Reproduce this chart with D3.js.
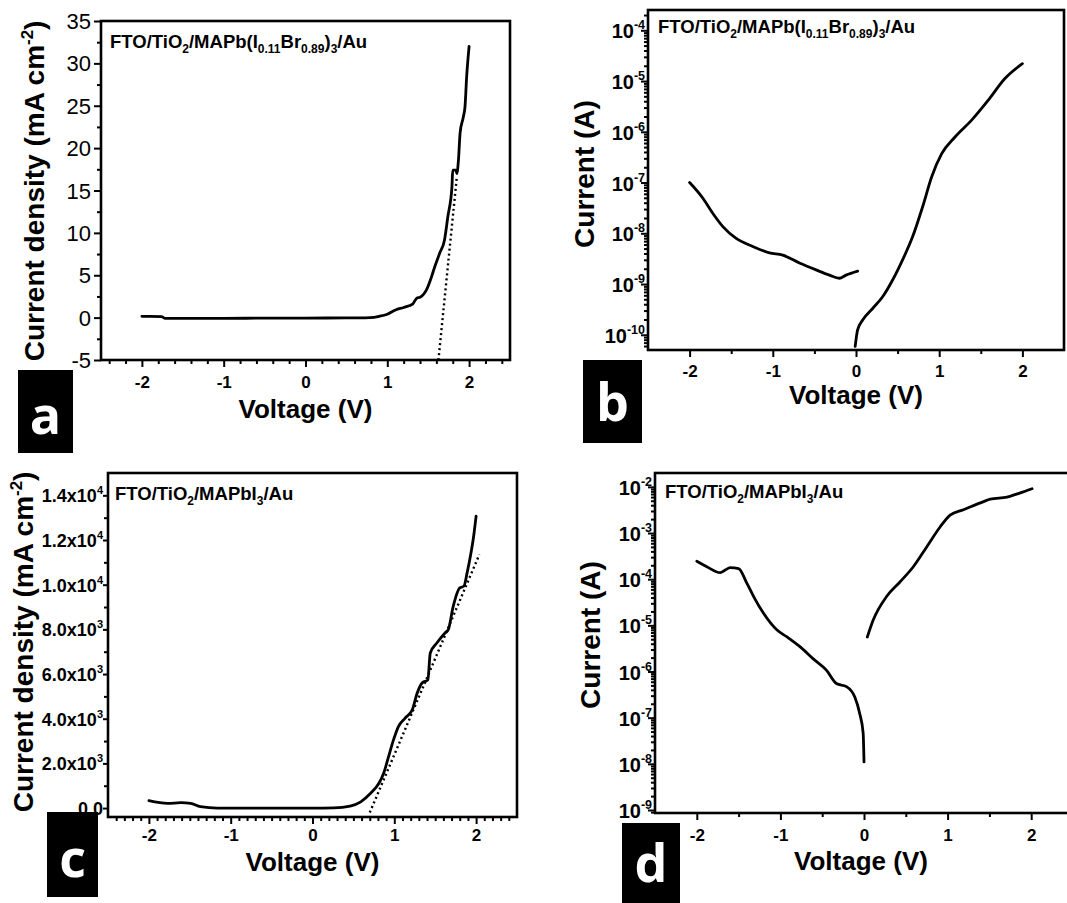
<!DOCTYPE html>
<html><head><meta charset="utf-8">
<script src="https://cdn.jsdelivr.net/npm/d3@7"></script>
<style>
body{margin:0;background:#fff}
svg{display:block}
text{font-family:"Liberation Sans",Arial,sans-serif;fill:#000}
</style>
</head><body>
<svg id="chart" width="1067" height="903"></svg>
<script>
// ---------------- DATA ----------------
const xTicks = [-2, -1, 0, 1, 2];

// Panel a: FTO/TiO2/MAPb(I0.11Br0.89)3/Au, J-V linear
const voltA = [-2.0, -1.9, -1.76, -1.72, -1.4, -1.0, -0.5, 0.0, 0.5, 0.79, 0.9, 1.0, 1.1, 1.2, 1.31, 1.36, 1.40, 1.48, 1.54, 1.58, 1.64, 1.70, 1.74, 1.79, 1.80, 1.84, 1.85, 1.87, 1.89, 1.93, 1.95, 1.97, 2.0];
const jA    = [0.15, 0.15, 0.12, -0.08, -0.08, -0.08, -0.06, -0.05, -0.04, 0.0, 0.15, 0.4, 0.9, 1.2, 1.6, 2.3, 2.4, 3.3, 4.8, 6.0, 7.6, 9.2, 11.9, 15.4, 17.4, 17.4, 17.0, 18.6, 21.8, 23.7, 24.9, 28.4, 32.0];
const fitVoltA = [1.625, 1.85];
const fitJA    = [-5.0, 16.6];
const yTicksA = [-5, 0, 5, 10, 15, 20, 25, 30, 35];

// Panel b: log I-V
const voltBrev = [-2.0, -1.84, -1.72, -1.60, -1.44, -1.24, -1.04, -0.88, -0.68, -0.48, -0.32, -0.20, -0.12, 0.02];
const curBrev  = [1.0e-7, 4.9e-8, 2.45e-8, 1.35e-8, 7.9e-9, 5.5e-9, 4.1e-9, 3.7e-9, 2.6e-9, 1.9e-9, 1.5e-9, 1.3e-9, 1.5e-9, 1.8e-9];
const voltBfwd = [-0.01, 0.02, 0.08, 0.20, 0.32, 0.44, 0.56, 0.68, 0.80, 0.91, 1.03, 1.19, 1.39, 1.59, 1.79, 2.0];
const curBfwd  = [5.9e-11, 1.26e-10, 1.95e-10, 3.3e-10, 5.6e-10, 1.2e-9, 3.0e-9, 8.5e-9, 3.3e-8, 1.3e-7, 3.7e-7, 7.9e-7, 1.7e-6, 4.2e-6, 1.12e-5, 2.2e-5];
const yTickExpB = [-10, -9, -8, -7, -6, -5, -4];

// Panel c: FTO/TiO2/MAPbI3/Au, J-V linear
const voltC = [-2.0, -1.77, -1.61, -1.49, -1.37, -1.16, -0.5, 0.0, 0.26, 0.46, 0.59, 0.71, 0.81, 0.87, 0.93, 0.99, 1.05, 1.13, 1.22, 1.28, 1.34, 1.41, 1.44, 1.52, 1.62, 1.66, 1.72, 1.80, 1.85, 1.89, 1.93, 1.97, 2.0];
const jC    = [330, 210, 240, 210, 60, 0, 0, 0, 10, 90, 280, 660, 1100, 1560, 2300, 3050, 3650, 4020, 4400, 5150, 5600, 5740, 6940, 7390, 7840, 7990, 9030, 9860, 9930, 10530, 11270, 12170, 13070];
const fitVoltC = [0.70, 2.04];
const fitJC    = [-200, 11350];
const yTicksC = [0, 2000, 4000, 6000, 8000, 10000, 12000, 14000];
const yTickMantC = ["0.0", "2.0", "4.0", "6.0", "8.0", "1.0", "1.2", "1.4"];
const yTickExpC  = ["", "3", "3", "3", "3", "4", "4", "4"];

// Panel d: log I-V
const voltDrev = [-2.0, -1.88, -1.72, -1.66, -1.60, -1.50, -1.40, -1.32, -1.20, -1.04, -0.92, -0.77, -0.61, -0.45, -0.33, -0.21, -0.11, -0.05, -0.01, 0.0];
const curDrev  = [2.45e-4, 1.86e-4, 1.38e-4, 1.58e-4, 1.78e-4, 1.7e-4, 8.1e-5, 4.2e-5, 1.8e-5, 7.9e-6, 5.6e-6, 3.5e-6, 1.9e-6, 1.07e-6, 5.5e-7, 4.7e-7, 2.8e-7, 1.2e-7, 4.6e-8, 1.1e-8];
const voltDfwd = [0.04, 0.11, 0.27, 0.43, 0.59, 0.75, 0.91, 1.03, 1.19, 1.43, 1.51, 1.71, 1.87, 2.01];
const curDfwd  = [5.6e-6, 1.3e-5, 4.2e-5, 8.7e-5, 1.86e-4, 5.0e-4, 1.35e-3, 2.45e-3, 3.2e-3, 4.8e-3, 5.4e-3, 6.0e-3, 7.4e-3, 9.1e-3];
const yTickExpD = [-9, -8, -7, -6, -5, -4, -3, -2];

// ---------------- DRAWING ----------------
const svg = d3.select("#chart");

function sup(textSel, base, exp, supSize, dy) {
  textSel.append("tspan").text(base);
  if (exp !== "") textSel.append("tspan").attr("font-size", supSize).attr("dy", -dy).text(exp);
}

function panel(o) {
  const g = svg.append("g");
  const x = d3.scaleLinear().domain(o.xDomain).range([o.left, o.right]);
  const y = (o.log ? d3.scaleLog() : d3.scaleLinear()).domain(o.yDomain).range([o.bottom, o.top]);

  // minor x ticks
  g.append("g").attr("transform", `translate(0,${o.bottom})`)
    .call(d3.axisBottom(x).tickValues(o.xMinor).tickSize(4).tickFormat("").tickSizeOuter(0))
    .call(s => { s.select(".domain").remove(); s.selectAll("line").attr("stroke-width", 2); });
  // major x ticks
  const gx = g.append("g").attr("transform", `translate(0,${o.bottom})`)
    .call(d3.axisBottom(x).tickValues(xTicks).tickSize(7).tickFormat(d => String(d)).tickSizeOuter(0));
  gx.select(".domain").remove();
  gx.selectAll("line").attr("stroke-width", 2);
  gx.selectAll("text").attr("y", o.xLabDy).attr("dy", 0)
    .attr("font-size", 17).attr("font-weight", "bold")
    .attr("font-family", '"Liberation Sans", Arial, sans-serif');

  // y ticks
  let yMajor, yMinor;
  if (o.log) {
    yMajor = o.yDecades.map(e => Math.pow(10, e));
    yMinor = [];
    const lo = Math.floor(Math.log10(o.yDomain[0])), hi = Math.ceil(Math.log10(o.yDomain[1]));
    for (let e = lo; e < hi; e++) for (let m = 2; m <= 9; m++) {
      const v = m * Math.pow(10, e);
      if (v >= o.yDomain[0] && v <= o.yDomain[1]) yMinor.push(v);
    }
  } else {
    yMajor = o.yTicks; yMinor = o.yMinor;
  }
  g.append("g").attr("transform", `translate(${o.left},0)`)
    .call(d3.axisLeft(y).tickValues(yMinor).tickSize(4).tickFormat("").tickSizeOuter(0))
    .call(s => { s.select(".domain").remove(); s.selectAll("line").attr("stroke-width", 2); });
  g.append("g").attr("transform", `translate(${o.left},0)`)
    .call(d3.axisLeft(y).tickValues(yMajor).tickSize(o.yMajorLen || 7).tickFormat("").tickSizeOuter(0))
    .call(s => { s.select(".domain").remove(); s.selectAll("line").attr("stroke-width", 2); });

  // y tick labels
  yMajor.forEach((v, i) => {
    const t = g.append("text").attr("x", o.yLabX).attr("y", y(v) + o.yLabDy)
      .attr("text-anchor", "end");
    if (o.yLabStyle === "plain") {
      t.attr("font-size", 22).text(String(v));
    } else if (o.log) {
      t.attr("font-size", 20).attr("font-weight", "bold");
      sup(t, "10", String(o.yDecades[i]), 12.5, 9);
    } else {
      t.attr("font-size", 18).attr("font-weight", "bold");
      if (o.yExp[i] === "") t.text(o.yMant[i]);
      else sup(t, o.yMant[i] + "x10", o.yExp[i], 11, 8);
    }
  });

  // frame
  g.append("rect").attr("x", o.left).attr("y", o.top)
    .attr("width", o.right - o.left).attr("height", o.bottom - o.top)
    .attr("fill", "none").attr("stroke", "#000").attr("stroke-width", 2.6);

  // curves
  const line = d3.line().x(d => x(d[0])).y(d => y(d[1])).curve(d3.curveMonotoneX);
  o.series.forEach(s => {
    g.append("path").datum(d3.zip(s.x, s.y)).attr("d", s.dotted ? d3.line().x(d => x(d[0])).y(d => y(d[1])) : line)
      .attr("fill", "none").attr("stroke", "#000")
      .attr("stroke-width", s.dotted ? 2.4 : 2.8)
      .attr("stroke-dasharray", s.dotted ? "2,3" : null)
      .attr("stroke-linejoin", "round").attr("stroke-linecap", s.dotted ? "butt" : "round");
  });

  // axis titles
  g.append("text").attr("x", (o.left + Math.min(o.right, 1067)) / 2 + (o.xTitleShift || 0)).attr("y", o.xTitleY)
    .attr("text-anchor", "middle").attr("font-size", 26).attr("font-weight", "bold").text("Voltage (V)");
  const yt = g.append("text").attr("transform", `translate(${o.yTitleX},${o.yTitleY}) rotate(-90)`)
    .attr("text-anchor", "middle").attr("font-size", o.yTitleSize).attr("font-weight", "bold");
  if (o.density) {
    yt.append("tspan").text("Current density (mA cm");
    yt.append("tspan").attr("font-size", o.yTitleSize * 0.6).attr("dy", -11).text("-2");
    yt.append("tspan").attr("dy", 11).text(")");
  } else {
    yt.text("Current (A)");
  }

  // sample label (chemical formula)
  const lab = g.append("text").attr("x", o.titleX).attr("y", o.titleY)
    .attr("font-size", 18.5).attr("font-weight", "bold");
  const parts = o.mixed
    ? [["FTO/TiO", 0], ["2", 1], ["/MAPb(I", 0], ["0.11", 1], ["Br", 0], ["0.89", 1], [")", 0], ["3", 1], ["/Au", 0]]
    : [["FTO/TiO", 0], ["2", 1], ["/MAPbI", 0], ["3", 1], ["/Au", 0]];
  let prevSub = 0;
  parts.forEach(([txt, sub]) => {
    const ts = lab.append("tspan").text(txt);
    if (sub) ts.attr("font-size", 12);
    const dy = (sub ? 5 : 0) - (prevSub ? 5 : 0);
    if (dy) ts.attr("dy", dy);
    prevSub = sub;
  });

  // panel letter box
  g.append("rect").attr("x", o.box[0]).attr("y", o.box[1]).attr("width", o.box[2]).attr("height", o.box[3]).attr("fill", "#000");
  g.append("text").attr("x", o.box[0] + o.box[2] / 2).attr("y", o.letterY)
    .attr("text-anchor", "middle").attr("font-size", 52).attr("font-weight", "bold")
    .style("font-family", '"Open Sans", sans-serif').style("fill", "#fff").text(o.letter);
}

const minor02 = d3.range(-24, 25, 2).map(v => v / 10).filter(v => !Number.isInteger(v));
const minor01 = d3.range(-24, 25, 1).map(v => v / 10).filter(v => !Number.isInteger(v));
const minor05 = [-1.5, -0.5, 0.5, 1.5];

panel({
  left: 101, right: 510, top: 21, bottom: 360,
  xDomain: [-2.5, 2.5], yDomain: [-5, 35],
  xMinor: minor02, yTicks: yTicksA, yMinor: [-2.5, 2.5, 7.5, 12.5, 17.5, 22.5, 27.5, 32.5],
  yLabX: 91, yLabDy: 8, yLabStyle: "plain", xLabDy: 28,
  series: [{x: voltA, y: jA}, {x: fitVoltA, y: fitJA, dotted: true}],
  xTitleY: 418, yTitleX: 44, yTitleY: 191, yTitleSize: 28, density: true,
  titleX: 110, titleY: 48, mixed: true,
  box: [18, 370, 55, 83], letter: "a", letterY: 434
});

panel({
  left: 648, right: 1064, top: 10, bottom: 350, log: true,
  xDomain: [-2.5, 2.5], yDomain: [Math.pow(10, -10.3), Math.pow(10, -3.6)],
  xMinor: minor05, yDecades: yTickExpB,
  yLabX: 645, yLabDy: 8, xLabDy: 27,
  series: [{x: voltBrev, y: curBrev}, {x: voltBfwd, y: curBfwd}],
  xTitleY: 404, yTitleX: 594, yTitleY: 174, yTitleSize: 28, density: false,
  titleX: 658, titleY: 33, mixed: true,
  box: [583, 360, 59, 83], letter: "b", letterY: 421
});

panel({
  left: 108, right: 517, top: 473, bottom: 817,
  xDomain: [-2.5, 2.5], yDomain: [-400, 15000],
  xMinor: minor01, yTicks: yTicksC, yMinor: [1000, 3000, 5000, 7000, 9000, 11000, 13000],
  yMant: yTickMantC, yExp: yTickExpC, yMajorLen: 5,
  yLabX: 103, yLabDy: 7, xLabDy: 24,
  series: [{x: voltC, y: jC}, {x: fitVoltC, y: fitJC, dotted: true}],
  xTitleY: 871, yTitleX: 33, yTitleY: 642, yTitleSize: 28, density: true,
  titleX: 115, titleY: 500, mixed: false,
  box: [47, 812, 51, 85], letter: "c", letterY: 877
});

panel({
  left: 655, right: 1073, top: 473, bottom: 813, log: true,
  xDomain: [-2.5, 2.5], yDomain: [Math.pow(10, -9.065), Math.pow(10, -1.7)],
  xMinor: minor05, yDecades: yTickExpD,
  yLabX: 652, yLabDy: 8, xLabDy: 28,
  series: [{x: voltDrev, y: curDrev}, {x: voltDfwd, y: curDfwd}],
  xTitleY: 870, xTitleShift: 0, yTitleX: 600, yTitleY: 635, yTitleSize: 28, density: false,
  titleX: 665, titleY: 498, mixed: false,
  box: [622, 823, 58, 85], letter: "d", letterY: 882
});
</script>
</body></html>
